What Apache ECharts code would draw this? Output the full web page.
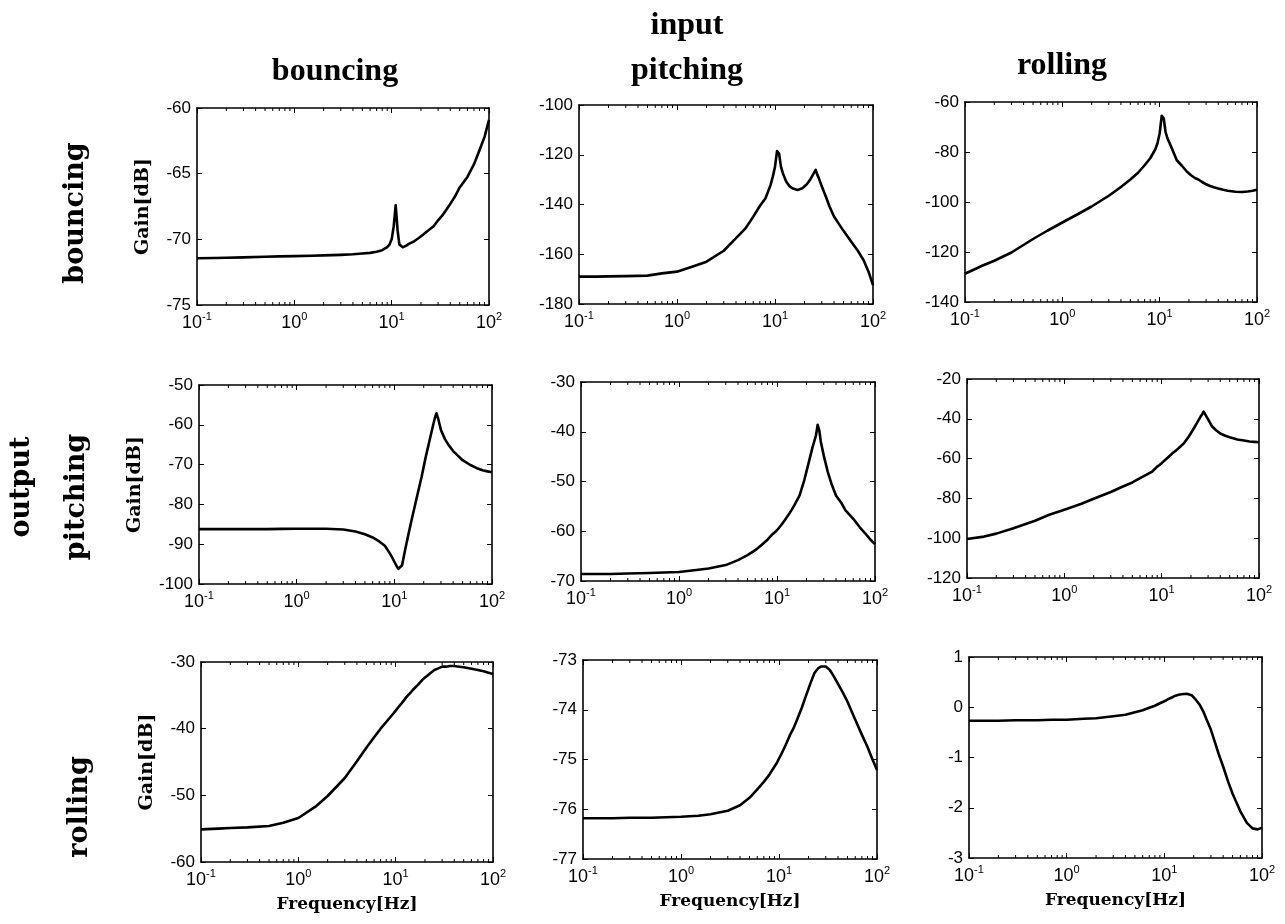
<!DOCTYPE html>
<html>
<head>
<meta charset="utf-8">
<title>Gain</title>
<script src="https://cdn.jsdelivr.net/npm/echarts@6/dist/echarts.min.js"></script>
<style>
  * { margin: 0; padding: 0; }
  #main { width: 1285px; height: 924px; background: #fff; }
</style>
</head>
<body>
<div id="main"></div>
<script>
// frequency points [Hz], shared by all nine panels
var freq = [0.1, 0.15, 0.2, 0.3, 0.5, 0.7, 1, 1.5, 2, 3, 4, 5, 6, 7, 8, 9, 9.5, 10, 10.5, 11,
  11.5, 12, 13, 14, 15, 17, 19, 21, 23, 25, 26, 27, 28, 30, 33, 36, 40, 45, 50, 60, 70, 80, 90, 100];
// minor tick positions of the log axis
var minorTicks = [0.2, 0.3, 0.4, 0.5, 0.6, 0.7, 0.8, 0.9, 2, 3, 4, 5, 6, 7, 8, 9, 20, 30, 40, 50, 60, 70, 80, 90];

// gain [dB]  (first letter = output, second = input)
var gainBB = [-71.44, -71.42, -71.40, -71.37, -71.33, -71.30, -71.28, -71.25, -71.22, -71.18, -71.14, -71.08, -71.03, -70.95, -70.83, -70.6, -70.4, -70.0, -69.0, -67.4,
  -69.3, -70.4, -70.6, -70.5, -70.35, -70.15, -69.9, -69.65, -69.4, -69.2, -69.1, -69.0, -68.85, -68.55, -68.2, -67.8, -67.3, -66.7, -66.05, -65.25, -64.3, -63.2, -62.2, -60.9];
var gainBP = [-169.0, -169.0, -168.9, -168.8, -168.6, -167.7, -167.0, -164.7, -163.0, -158.6, -153.5, -149.6, -144.9, -140.6, -137.5, -132.2, -128.8, -124.8, -118.5, -119.5,
  -124.8, -127.3, -130.8, -132.6, -133.5, -134.2, -133.5, -132.0, -129.8, -127.3, -126.1, -128.0, -129.4, -132.7, -136.8, -140.8, -144.8, -147.9, -150.6, -155.0, -158.6, -162.3, -167.0, -172.4];
var gainBR = [-128.7, -125.5, -123.5, -120.2, -114.8, -111.5, -108.2, -104.5, -101.8, -97.5, -94.0, -91.0, -88.3, -85.3, -82.5, -79.0, -76.5, -72.5, -65.5, -66.5,
  -72.0, -74.5, -77.5, -80.5, -83.3, -85.6, -87.8, -89.3, -90.4, -91.0, -91.5, -91.9, -92.3, -92.9, -93.6, -94.1, -94.6, -95.1, -95.5, -95.9, -96.0, -95.8, -95.5, -95.1];
var gainPB = [-86.2, -86.2, -86.2, -86.2, -86.2, -86.15, -86.1, -86.1, -86.1, -86.3, -86.8, -87.5, -88.3, -89.3, -90.4, -92.3, -93.3, -94.4, -95.4, -96.2,
  -96.4, -95.3, -91.0, -87.3, -84.0, -78.2, -73.1, -68.0, -63.8, -60.0, -58.3, -57.1, -58.3, -61.3, -63.6, -65.1, -66.6, -67.8, -68.9, -70.1, -70.9, -71.4, -71.7, -71.9];
var gainPP = [-68.6, -68.6, -68.6, -68.5, -68.4, -68.3, -68.2, -67.8, -67.5, -66.8, -65.8, -64.8, -63.8, -62.7, -61.7, -60.6, -60.2, -59.8, -59.3, -58.8,
  -58.3, -57.8, -56.8, -55.8, -54.8, -52.8, -49.7, -46.3, -43.2, -40.7, -38.6, -39.7, -42.0, -44.8, -48.1, -50.5, -52.8, -54.2, -55.8, -57.5, -59.2, -60.5, -61.7, -62.6];
var gainPR = [-100.4, -99.2, -97.7, -95.0, -91.2, -88.2, -85.7, -82.7, -80.2, -76.8, -74.0, -72.0, -69.8, -68.1, -66.5, -64.0, -63.2, -62.3, -61.3, -60.5,
  -59.6, -58.8, -57.2, -56.0, -54.7, -52.2, -48.9, -45.5, -42.2, -39.0, -37.8, -36.4, -37.0, -40.3, -43.9, -45.6, -47.4, -48.5, -49.3, -50.4, -50.9, -51.4, -51.6, -51.8];
var gainRB = [-55.1, -55.0, -54.9, -54.8, -54.6, -54.1, -53.4, -51.7, -50.1, -47.4, -44.9, -42.85, -41.3, -40.0, -39.0, -38.1, -37.7, -37.3, -36.9, -36.6,
  -36.2, -35.9, -35.2, -34.7, -34.2, -33.4, -32.6, -32.1, -31.6, -31.2, -31.1, -31.0, -30.9, -30.7, -30.7, -30.6, -30.6, -30.7, -30.8, -31.0, -31.2, -31.4, -31.6, -31.8];
var gainRP = [-76.18, -76.18, -76.18, -76.17, -76.17, -76.16, -76.15, -76.13, -76.10, -76.03, -75.92, -75.77, -75.60, -75.45, -75.30, -75.14, -75.07, -74.98, -74.90, -74.82,
  -74.74, -74.66, -74.50, -74.38, -74.24, -73.97, -73.70, -73.46, -73.26, -73.17, -73.14, -73.13, -73.12, -73.13, -73.20, -73.32, -73.48, -73.66, -73.84, -74.20, -74.50, -74.75, -75.0, -75.21];
var gainRR = [-0.27, -0.27, -0.27, -0.26, -0.26, -0.25, -0.25, -0.23, -0.22, -0.18, -0.15, -0.10, -0.06, -0.01, 0.03, 0.08, 0.10, 0.12, 0.14, 0.16,
  0.18, 0.20, 0.23, 0.25, 0.26, 0.27, 0.24, 0.15, 0.05, -0.08, -0.16, -0.24, -0.31, -0.45, -0.70, -0.93, -1.18, -1.48, -1.72, -2.07, -2.30, -2.41, -2.43, -2.40];

var gains = [gainBB, gainBP, gainBR, gainPB, gainPP, gainPR, gainRB, gainRP, gainRR];
// y axis ranges [min, max, step] per panel
var yRanges = [[-75, -60, 5], [-180, -100, 20], [-140, -60, 20],
  [-100, -50, 10], [-70, -30, 10], [-120, -20, 20],
  [-60, -30, 10], [-77, -73, 1], [-3, 1, 1]];

// panel boxes [left, top, width, height]
var boxes = [[197, 108, 292, 197], [579, 105, 294, 199], [965, 102, 292, 200],
  [199, 385, 293, 199], [581, 382, 294, 199], [967, 379, 292, 199],
  [201, 662, 292, 200], [583, 660, 294, 199], [969, 657, 293, 201]];
var gainGaps = [44, 54, 44];

var chart = echarts.init(document.getElementById('main'));

var black = '#000';
var lineAxis = { onZero: false, lineStyle: { color: black, width: 1.6 } };
var tick = { inside: true, length: 5, lineStyle: { color: black, width: 1 } };
var grids = [], xAxes = [], yAxes = [], series = [];

gains.forEach(function (g, i) {
  var row = Math.floor(i / 3), col = i % 3, b = boxes[i], r = yRanges[i];
  grids.push({ left: b[0], top: b[1], width: b[2], height: b[3] });

  xAxes.push({
    gridIndex: i, type: 'log', logBase: 10, min: 0.1, max: 100, splitNumber: 3,
    position: 'bottom',
    axisLine: lineAxis,
    axisTick: tick,
    splitLine: { show: false },
    axisLabel: {
      margin: 6,
      formatter: function (v) { return '{b|10}{e|' + Math.round(Math.log10(v)) + '}'; },
      rich: {
        b: { fontSize: 18, fontFamily: 'Liberation Sans', color: black, lineHeight: 21, verticalAlign: 'bottom' },
        e: { fontSize: 11, fontFamily: 'Liberation Sans', color: black, lineHeight: 12, verticalAlign: 'top' }
      }
    },
    name: row === 2 ? 'Frequency[Hz]' : '',
    nameLocation: 'middle', nameGap: 34,
    nameTextStyle: { fontFamily: 'DejaVu Serif', fontWeight: 'bold', fontSize: 17, color: black }
  });
  xAxes.push({
    gridIndex: i, type: 'log', logBase: 10, min: 0.1, max: 100, splitNumber: 3,
    position: 'top',
    axisLine: lineAxis,
    axisTick: tick,
    splitLine: { show: false },
    axisLabel: { show: false }
  });

  yAxes.push({
    gridIndex: i, type: 'value', min: r[0], max: r[1], interval: r[2],
    position: 'left',
    axisLine: lineAxis,
    axisTick: tick,
    splitLine: { show: false },
    axisLabel: { margin: 6, fontSize: 17, fontFamily: 'Liberation Sans', color: black },
    name: col === 0 ? 'Gain[dB]' : '',
    nameLocation: 'middle', nameGap: gainGaps[row],
    nameTextStyle: { fontFamily: 'DejaVu Serif', fontWeight: 'bold', fontSize: 19, color: black }
  });
  yAxes.push({
    gridIndex: i, type: 'value', min: r[0], max: r[1], interval: r[2],
    position: 'right',
    axisLine: lineAxis,
    axisTick: tick,
    splitLine: { show: false },
    axisLabel: { show: false }
  });

  series.push({
    type: 'line', xAxisIndex: 2 * i, yAxisIndex: 2 * i,
    data: freq.map(function (f, k) { return [f, g[k]]; }),
    showSymbol: false, silent: true,
    lineStyle: { color: black, width: 2.6, join: 'round' }
  });

  // minor ticks of the log axis, on the bottom and top edges
  series.push({
    type: 'custom', xAxisIndex: 2 * i, yAxisIndex: 2 * i, silent: true, clip: false,
    data: minorTicks.map(function (f) { return [f, r[0]]; }),
    renderItem: function (params, api) {
      var cs = params.coordSys;
      var x = api.coord([api.value(0), api.value(1)])[0];
      var st = { stroke: black, lineWidth: 1 };
      return {
        type: 'group',
        children: [
          { type: 'line', shape: { x1: x, y1: cs.y + cs.height, x2: x, y2: cs.y + cs.height - 3 }, style: st },
          { type: 'line', shape: { x1: x, y1: cs.y, x2: x, y2: cs.y + 3 }, style: st }
        ]
      };
    }
  });
});

var headFont = 'bold 32px "Liberation Serif"';
var rowFont = 'bold 27px "DejaVu Serif"';
function txt(x, y, text, font, rot) {
  return {
    type: 'text', x: x, y: y, rotation: rot || 0,
    style: { text: text, font: font, fill: black, align: 'center', verticalAlign: 'middle' }
  };
}

chart.setOption({
  backgroundColor: '#fff',
  animation: false,
  grid: grids,
  xAxis: xAxes,
  yAxis: yAxes,
  series: series,
  graphic: [
    txt(687, 26, 'input', headFont),
    txt(335, 72, 'bouncing', headFont),
    txt(687, 71, 'pitching', headFont),
    txt(1062, 66, 'rolling', headFont),
    txt(76, 213, 'bouncing', rowFont, Math.PI / 2),
    txt(22, 487, 'output', rowFont, Math.PI / 2),
    txt(77, 497, 'pitching', rowFont, Math.PI / 2),
    txt(80, 807, 'rolling', rowFont, Math.PI / 2)
  ]
});
</script>
</body>
</html>
